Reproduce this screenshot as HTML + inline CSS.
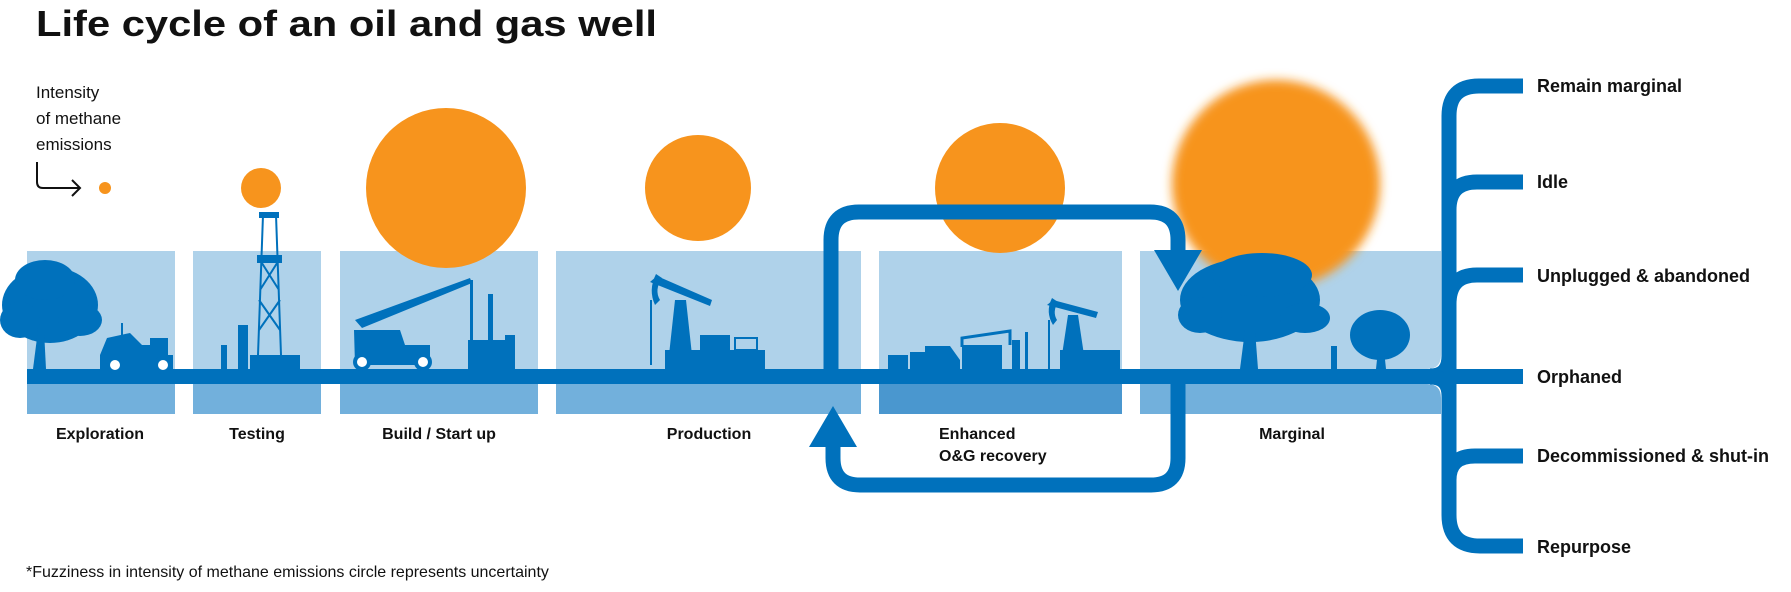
<!DOCTYPE html>
<html><head><meta charset="utf-8"><style>
html,body{margin:0;padding:0;background:#fff;}
svg{display:block;font-family:"Liberation Sans",sans-serif;}
</style></head><body>
<svg width="1791" height="592" viewBox="0 0 1791 592" xmlns="http://www.w3.org/2000/svg">
<defs><filter id="blur" x="-30%" y="-30%" width="160%" height="160%"><feGaussianBlur stdDeviation="5"/></filter></defs>
<text x="36" y="36" font-size="36" font-weight="bold" fill="#111" textLength="621" lengthAdjust="spacingAndGlyphs">Life cycle of an oil and gas well</text>

<g font-size="17" fill="#111">
<text x="36" y="98">Intensity</text>
<text x="36" y="124">of methane</text>
<text x="36" y="150">emissions</text>
</g>
<path d="M37 162 V182 Q37 188 43 188 H80 M72 180 L80 188 L72 196" fill="none" stroke="#111" stroke-width="2"/>
<circle cx="105" cy="188" r="6" fill="#f7941d"/>

<g fill="#afd2ea">
<rect x="27" y="251" width="148" height="118"/>
<rect x="193" y="251" width="128" height="118"/>
<rect x="340" y="251" width="198" height="118"/>
<rect x="556" y="251" width="305" height="118"/>
<rect x="879" y="251" width="243" height="118"/>
<path d="M1140 251 H1441 V355 Q1441 369 1427 369 H1140 Z"/>
</g>
<g fill="#72b0dc">
<rect x="27" y="384" width="148" height="30"/>
<rect x="193" y="384" width="128" height="30"/>
<rect x="340" y="384" width="198" height="30"/>
<rect x="556" y="384" width="305" height="30"/>
<path d="M1140 384 H1427 Q1441 384 1441 398 V414 H1140 Z"/>
</g>
<rect x="879" y="384" width="243" height="30" fill="#4a97cf"/>

<circle cx="261" cy="188" r="20" fill="#f7941d"/>
<circle cx="446" cy="188" r="80" fill="#f7941d"/>
<circle cx="698" cy="188" r="53" fill="#f7941d"/>
<circle cx="1000" cy="188" r="65" fill="#f7941d"/>
<circle cx="1276" cy="184" r="104" fill="#f7941d" filter="url(#blur)"/>

<rect x="27" y="369" width="1496" height="15" fill="#0071bc"/>

<g fill="none" stroke="#0071bc" stroke-width="15">
<path d="M831 369 V240 Q831 212 859 212 H1150 Q1178 212 1178 240 V252"/>
<path d="M1178 384 V458 Q1178 485 1151 485 H860 Q833 485 833 458 V440"/>
</g>
<polygon points="1154,250 1202,250 1178,291" fill="#0071bc"/>
<polygon points="809,447 857,447 833,406" fill="#0071bc"/>

<g fill="none" stroke="#0071bc" stroke-width="15">
<path d="M1449 376 Q1449 355 1449 340 V116 Q1449 86 1479 86 H1523"/>
<path d="M1449 210 Q1449 182 1477 182 H1523"/>
<path d="M1449 304 Q1449 275 1477 275 H1523"/>
<path d="M1449 376 V515 Q1449 546 1480 546 H1523"/>
<path d="M1449 480 Q1449 456 1475 456 H1523"/>
<path d="M1430 376 Q1449 376 1449 356"/>
<path d="M1430 377 Q1449 377 1449 396"/>
</g>

<g font-size="18" font-weight="bold" fill="#111">
<text x="1537" y="92">Remain marginal</text>
<text x="1537" y="188">Idle</text>
<text x="1537" y="282">Unplugged &amp; abandoned</text>
<text x="1537" y="383">Orphaned</text>
<text x="1537" y="462">Decommissioned &amp; shut-in</text>
<text x="1537" y="553">Repurpose</text>
</g>

<g font-size="16" font-weight="bold" fill="#111" text-anchor="middle">
<text x="100" y="439">Exploration</text>
<text x="257" y="439">Testing</text>
<text x="439" y="439">Build / Start up</text>
<text x="709" y="439">Production</text>
<text x="1292" y="439">Marginal</text>
</g>
<g font-size="16" font-weight="bold" fill="#111">
<text x="939" y="439">Enhanced</text>
<text x="939" y="461">O&amp;G recovery</text>
</g>

<text x="26" y="577" font-size="16" fill="#111">*Fuzziness in intensity of methane emissions circle represents uncertainty</text>

<g fill="#0071bc">
<ellipse cx="50" cy="305" rx="48" ry="38"/>
<ellipse cx="45" cy="280" rx="30" ry="20"/>
<ellipse cx="20" cy="320" rx="20" ry="18"/>
<ellipse cx="80" cy="320" rx="22" ry="16"/>
<path d="M33 369 L38 330 L44 330 L46 369 Z"/>
<path d="M100 369 V355 L107 338 L130 333 L142 345 H150 V338 H168 V355 H173 V369 Z"/>
<rect x="121" y="323" width="2" height="12"/>
<circle cx="115" cy="365" r="7" fill="#fff" stroke="#0071bc" stroke-width="4"/>
<circle cx="163" cy="365" r="7" fill="#fff" stroke="#0071bc" stroke-width="4"/>
<g stroke="#0071bc" stroke-width="2" fill="none"><path d="M263 215 L258 355 M276 215 L281 355 M260 260 L279 290 M279 260 L260 290 M259 300 L280 330 M280 300 L259 330"/></g>
<rect x="259" y="212" width="20" height="6"/>
<rect x="257" y="255" width="25" height="8"/>
<rect x="250" y="355" width="50" height="14"/>
<rect x="238" y="325" width="10" height="44"/>
<rect x="221" y="345" width="6" height="24"/>
<path d="M355 320 L470 278 L472 283 L362 328 Z"/>
<rect x="470" y="280" width="3" height="60"/>
<path d="M354 330 H400 L405 345 H430 V365 H355 Z"/>
<circle cx="362" cy="362" r="7" fill="#fff" stroke="#0071bc" stroke-width="4"/>
<circle cx="423" cy="362" r="7" fill="#fff" stroke="#0071bc" stroke-width="4"/>
<rect x="488" y="294" width="5" height="75"/>
<rect x="468" y="340" width="40" height="29"/>
<rect x="505" y="335" width="10" height="34"/>
<path d="M650 282 L657 276 L712 300 L710 306 Z"/>
<path d="M656 274 Q648 290 655 305 L660 300 Q654 290 662 278 Z"/>
<rect x="650" y="300" width="2" height="65"/>
<path d="M675 300 L686 300 L692 355 L669 355 Z"/>
<rect x="665" y="350" width="100" height="19"/>
<rect x="700" y="335" width="30" height="15"/>
<rect x="735" y="338" width="22" height="12" fill="none" stroke="#0071bc" stroke-width="2"/>
<rect x="888" y="355" width="20" height="14"/>
<path d="M910 369 V352 H930 L945 360 V369 Z"/>
<path d="M925 369 V346 H950 L960 360 V369 Z"/>
<rect x="962" y="345" width="40" height="24"/>
<path d="M962 347 V338 L1010 331 V345" fill="none" stroke="#0071bc" stroke-width="3"/>
<rect x="1012" y="340" width="8" height="29"/>
<rect x="1025" y="332" width="3" height="37"/>
<path d="M1047 305 L1053 300 L1098 312 L1096 318 Z"/>
<path d="M1052 298 Q1045 312 1053 325 L1057 320 Q1052 312 1058 302 Z"/>
<rect x="1048" y="320" width="2" height="60"/>
<path d="M1068 315 L1078 315 L1084 355 L1062 355 Z"/>
<rect x="1060" y="350" width="60" height="19"/>
<ellipse cx="1250" cy="300" rx="70" ry="42"/>
<ellipse cx="1262" cy="275" rx="50" ry="22"/>
<ellipse cx="1200" cy="315" rx="22" ry="18"/>
<ellipse cx="1305" cy="318" rx="25" ry="15"/>
<path d="M1240 369 L1245 330 L1255 330 L1258 369 Z"/>
<ellipse cx="1380" cy="335" rx="30" ry="25"/>
<path d="M1376 369 L1378 350 L1384 350 L1386 369 Z"/>
<rect x="1331" y="346" width="6" height="23"/>
</g>
</svg>
</body></html>
